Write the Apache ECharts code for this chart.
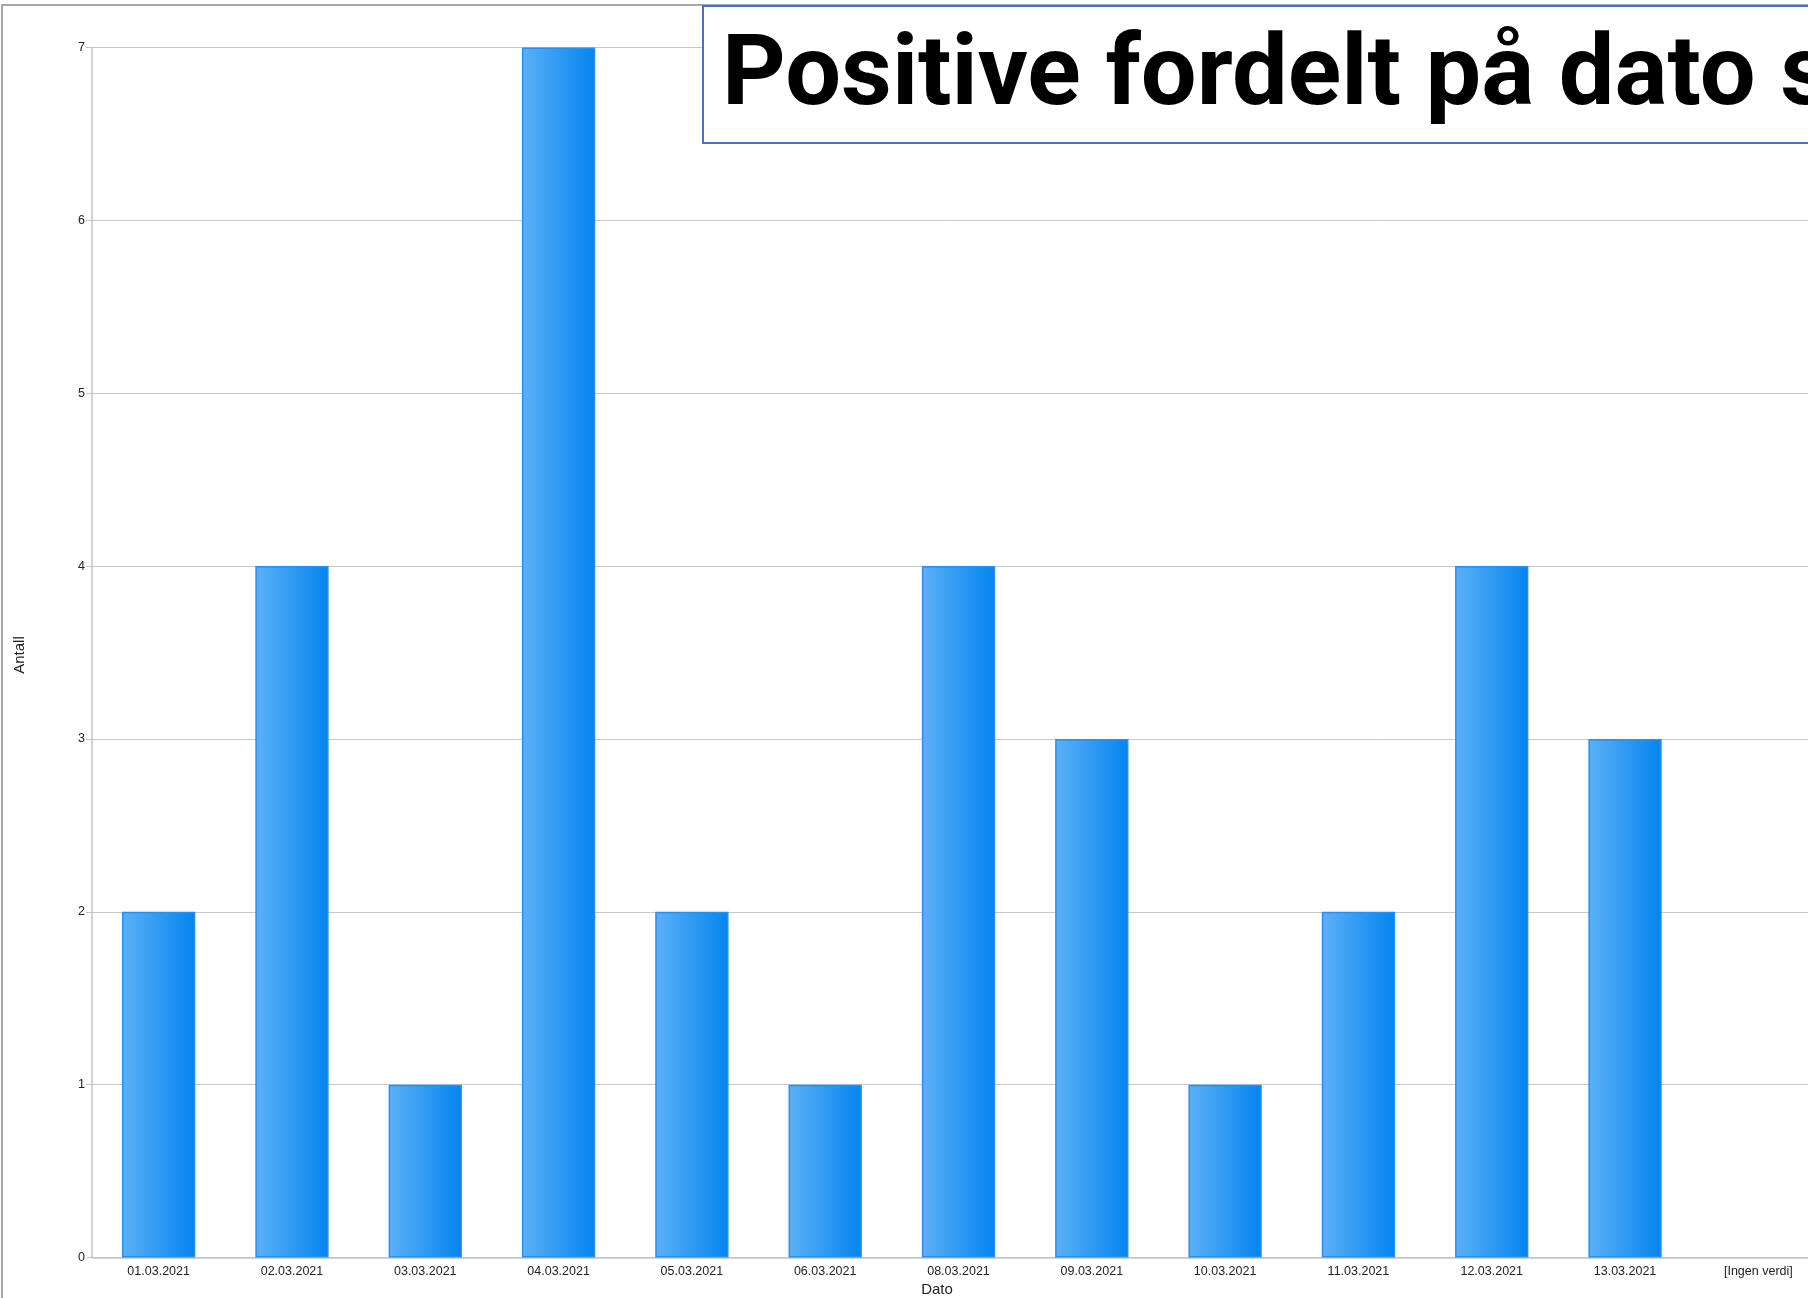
<!DOCTYPE html>
<html>
<head>
<meta charset="utf-8">
<script src="https://cdn.jsdelivr.net/npm/echarts/dist/echarts.min.js"></script>
<style>
  html, body { margin: 0; padding: 0; background: #fff; }
  #chart { width: 1808px; height: 1298px; }
</style>
</head>
<body>
<div id="chart"></div>
<script>
// data
const dates = ['01.03.2021', '02.03.2021', '03.03.2021', '04.03.2021', '05.03.2021', '06.03.2021',
  '08.03.2021', '09.03.2021', '10.03.2021', '11.03.2021', '12.03.2021', '13.03.2021', '[Ingen verdi]'];
const counts = [2, 4, 1, 7, 2, 1, 4, 3, 1, 2, 4, 3, null];
const titleText = 'Positive fordelt på dato s';

const chart = echarts.init(document.getElementById('chart'));

const barColor = new echarts.graphic.LinearGradient(0, 0, 1, 0, [
  { offset: 0, color: '#5cb1f6' },
  { offset: 1, color: '#0484f0' }
]);

const labelFont = { color: '#222', fontSize: 12.5, fontFamily: 'Liberation Sans' };

const option = {
  backgroundColor: '#fff',
  animation: false,
  // the plot runs past the right edge of the picture
  grid: { left: 92, top: 47.5, width: 1733, height: 1210, outerBoundsMode: 'none', containLabel: false },
  xAxis: {
    type: 'category',
    data: dates,
    axisLine: { lineStyle: { color: '#c4c4c4', width: 1.5 } },
    axisTick: { length: 6, lineStyle: { color: '#b4b4b4' } },
    axisLabel: Object.assign({ margin: 8, interval: 0 }, labelFont)
  },
  yAxis: {
    type: 'value',
    min: 0,
    max: 7,
    interval: 1,
    axisLine: { show: true, lineStyle: { color: '#c4c4c4', width: 1.5 } },
    axisTick: { show: true, length: 6, lineStyle: { color: '#c4c4c4' } },
    axisLabel: Object.assign({ margin: 7 }, labelFont),
    splitLine: { lineStyle: { color: '#c8c8c8', width: 1 } }
  },
  series: [{
    type: 'bar',
    data: counts,
    barWidth: '55%',
    itemStyle: { color: barColor, borderColor: '#2590f2', borderWidth: 1.5 }
  }],
  graphic: [
    {
      type: 'rect', z: 0, silent: true,
      shape: { x: 2, y: 5, width: 1900, height: 1400 },
      style: { fill: 'none', stroke: '#a8a8a8', lineWidth: 2 }
    },
    {
      type: 'text', z: 10,
      x: 20, y: 655,
      rotation: Math.PI / 2,
      style: { text: 'Antall', fill: '#222', font: '15px "Liberation Sans"', align: 'center', verticalAlign: 'middle' }
    },
    {
      type: 'text', z: 10,
      x: 937, y: 1290,
      style: { text: 'Dato', fill: '#222', font: '15px "Liberation Sans"', align: 'center', verticalAlign: 'middle' }
    },
    {
      type: 'rect', z: 20,
      shape: { x: 703, y: 6, width: 1200, height: 137 },
      style: { fill: '#fff', stroke: '#4472c4', lineWidth: 2 }
    },
    {
      type: 'text', z: 21,
      x: 722, y: 79,
      style: { text: titleText, fill: '#000', font: 'bold 99px Roboto', align: 'left', verticalAlign: 'middle' }
    }
  ]
};

chart.setOption(option);
</script>
</body>
</html>
